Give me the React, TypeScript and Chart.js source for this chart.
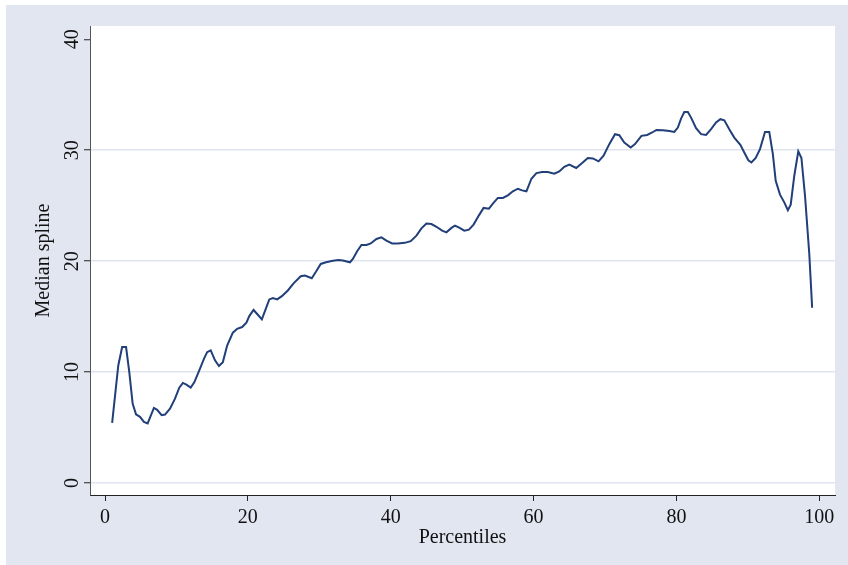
import React, { useEffect, useRef } from "react";
import { Chart, registerables } from "chart.js";

Chart.register(...registerables);

// Percentile positions and the median spline evaluated at them
const percentiles = [
  1.0, 1.86, 2.4, 2.95, 3.4, 3.87, 4.34, 4.9, 5.45, 5.97, 6.85, 7.3, 7.93, 8.4, 9.1, 9.8,
  10.4, 10.9, 11.4, 12.0, 12.5, 13.2, 13.85, 14.3, 14.8, 15.4, 15.95, 16.5, 17.1, 17.9,
  18.5, 19.2, 19.8, 20.2, 20.8, 21.4, 21.96, 22.6, 23.0, 23.5, 24.1, 24.76, 25.6, 26.4,
  27.4, 28.0, 28.95, 29.55, 30.2, 30.95, 31.9, 32.7, 33.3, 34.3, 34.7, 35.3, 35.9, 36.6,
  37.2, 38.0, 38.7, 39.4, 40.2, 41.0, 41.96, 42.8, 43.6, 44.3, 45.0, 45.7, 46.4, 47.2,
  47.8, 48.5, 49.0, 49.65, 50.3, 50.95, 51.6, 52.35, 53.0, 53.75, 54.3, 55.0, 55.7, 56.4,
  57.1, 57.8, 58.4, 59.0, 59.7, 60.4, 61.2, 62.0, 62.9, 63.6, 64.3, 65.0, 65.97, 66.8,
  67.6, 68.3, 69.1, 69.8, 70.6, 71.4, 72.0, 72.7, 73.6, 74.2, 75.1, 75.9, 76.6, 77.2,
  78.1, 79.0, 79.7, 80.2, 80.65, 81.1, 81.6, 82.05, 82.75, 83.45, 84.15, 84.85, 85.55,
  86.15, 86.7, 87.4, 88.1, 88.95, 89.5, 90.07, 90.5, 91.1, 91.7, 92.4, 93.0, 93.5, 93.9,
  94.5, 95.1, 95.6, 96.0, 96.5, 97.06, 97.5, 98.0, 98.6, 99.0,
];

const medianSpline = [
  5.42, 10.6, 12.26, 12.26, 10.0, 7.17, 6.2, 5.97, 5.51, 5.37, 6.77, 6.6, 6.11, 6.17, 6.71, 7.6,
  8.6, 9.02, 8.87, 8.6, 9.08, 10.16, 11.2, 11.8, 11.96, 11.06, 10.55, 10.9, 12.4, 13.55,
  13.9, 14.06, 14.45, 15.05, 15.6, 15.17, 14.75, 15.86, 16.55, 16.67, 16.55, 16.85, 17.36, 18.0,
  18.64, 18.7, 18.46, 19.06, 19.75, 19.9, 20.03, 20.1, 20.06, 19.9, 20.2, 20.9, 21.46, 21.46,
  21.6, 22.0, 22.15, 21.85, 21.6, 21.6, 21.65, 21.8, 22.3, 22.96, 23.4, 23.35, 23.1, 22.75,
  22.6, 23.0, 23.2, 23.0, 22.75, 22.84, 23.3, 24.13, 24.8, 24.73, 25.18, 25.7, 25.7, 25.93,
  26.3, 26.53, 26.38, 26.3, 27.43, 27.94, 28.03, 28.03, 27.88, 28.09, 28.5, 28.7, 28.4, 28.84,
  29.3, 29.26, 29.0, 29.5, 30.55, 31.45, 31.36, 30.7, 30.25, 30.55, 31.3, 31.38, 31.6, 31.83,
  31.8, 31.74, 31.65, 32.04, 32.85, 33.45, 33.45, 32.94, 31.99, 31.45, 31.38, 31.9, 32.5,
  32.8, 32.7, 31.9, 31.14, 30.49, 29.8, 29.1, 28.9, 29.3, 30.1, 31.65, 31.65, 29.65, 27.25,
  26.0, 25.3, 24.6, 25.1, 27.7, 29.9, 29.3, 25.9, 20.66, 15.8,
];

const xTicks = [0, 20, 40, 60, 80, 100];
const yTicks = [0, 10, 20, 30, 40];
const yGridValues = [0, 10, 20, 30];

const serif = '"Liberation Serif", "Times New Roman", serif';
const axisInk = "#222222";

const plotBackground = {
  id: "plotBackground",
  beforeDraw(chart: any) {
    const { ctx, chartArea } = chart;
    ctx.save();
    ctx.fillStyle = "#ffffff";
    ctx.fillRect(chartArea.left, chartArea.top, chartArea.right - chartArea.left, chartArea.bottom - chartArea.top);
    ctx.restore();
  },
};

export default function App() {
  const canvasRef = useRef<HTMLCanvasElement | null>(null);

  useEffect(() => {
    const canvas = canvasRef.current;
    if (!canvas) return;
    const chart = new Chart(canvas, {
      type: "line",
      data: {
        datasets: [
          {
            label: "Median spline",
            data: percentiles.map((p, i) => ({ x: p, y: medianSpline[i] })),
            borderColor: "#213f78",
            borderWidth: 2,
            pointRadius: 0,
            tension: 0,
            fill: false,
          },
        ],
      },
      options: {
        animation: false,
        responsive: false,
        devicePixelRatio: 1,
        layout: { padding: { left: 0, top: 26, right: 13, bottom: 0 } },
        plugins: {
          legend: { display: false },
          tooltip: { enabled: false },
        },
        scales: {
          x: {
            type: "linear",
            min: -2.1,
            max: 102.2,
            afterBuildTicks: (scale: any) => {
              scale.ticks = xTicks.map((v) => ({ value: v }));
            },
            afterFit: (scale: any) => {
              scale.height = 70;
            },
            grid: {
              drawOnChartArea: false,
              drawTicks: true,
              tickLength: 6,
              tickColor: axisInk,
              tickWidth: 1,
            },
            border: { display: true, color: axisInk, width: 1 },
            ticks: {
              font: { family: serif, size: 20 },
              color: "#111111",
              padding: 5,
              maxRotation: 0,
              minRotation: 0,
              autoSkip: false,
              callback: (v: any) => String(v),
            },
            title: {
              display: true,
              text: "Percentiles",
              font: { family: serif, size: 20 },
              color: "#111111",
              padding: { top: 0, bottom: 15 },
            },
          },
          y: {
            type: "linear",
            min: -1.08,
            max: 41.2,
            afterBuildTicks: (scale: any) => {
              scale.ticks = yTicks.map((v) => ({ value: v }));
            },
            afterFit: (scale: any) => {
              scale.width = 90;
            },
            grid: {
              color: (ctx: any) =>
                ctx.tick && yGridValues.includes(ctx.tick.value) ? "#dfe4ee" : "rgba(0,0,0,0)",
              lineWidth: 1.5,
              drawTicks: true,
              tickLength: 6,
              tickColor: axisInk,
              tickWidth: 1,
            },
            border: { display: true, color: "#555555", width: 1 },
            ticks: {
              font: { family: serif, size: 20 },
              color: "#111111",
              padding: 1,
              minRotation: 90,
              maxRotation: 90,
              crossAlign: "center",
              autoSkip: false,
              callback: (v: any) => String(v),
            },
            title: {
              display: true,
              text: "Median spline",
              font: { family: serif, size: 20 },
              color: "#111111",
              padding: { top: 32, bottom: 0 },
            },
          },
        },
      },
      plugins: [plotBackground],
    });
    return () => chart.destroy();
  }, []);

  return (
    <div style={{ position: "fixed", left: 0, top: 0, width: 848, height: 565, background: "#ffffff" }}>
      <div style={{ position: "absolute", left: 6, top: 5, right: 0, bottom: 0, background: "#e1e6f0" }} />
      <canvas
        ref={canvasRef}
        width={848}
        height={565}
        style={{ position: "absolute", left: 0, top: 0, width: 848, height: 565 }}
      />
    </div>
  );
}
